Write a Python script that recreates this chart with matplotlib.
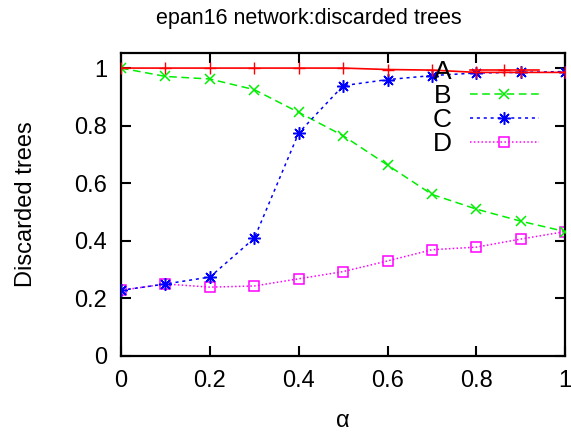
import matplotlib
matplotlib.use("Agg")
import matplotlib.pyplot as plt

plt.rcParams["font.family"] = ["Liberation Sans", "DejaVu Sans"]

# valori
alpha = [0.0, 0.1, 0.2, 0.3, 0.4, 0.5, 0.6, 0.7, 0.8, 0.9, 1.0]
serie_a = [1.0, 1.0, 1.0, 1.0, 1.0, 1.0, 0.995, 0.993, 0.985, 0.985, 0.985]
serie_b = [1.0, 0.971, 0.962, 0.925, 0.846, 0.765, 0.663, 0.561, 0.510, 0.468, 0.432]
serie_c = [0.228, 0.250, 0.274, 0.409, 0.775, 0.939, 0.960, 0.974, 0.983, 0.985, 0.988]
serie_d = [0.228, 0.250, 0.239, 0.243, 0.268, 0.293, 0.330, 0.369, 0.378, 0.406, 0.432]

fig = plt.figure(figsize=(5.71, 4.33), dpi=100)
ax = fig.add_axes([0.212, 0.178, 0.778, 0.700])

ax.plot(alpha, serie_a, color="#ff0000", lw=1.2, marker="+", ms=9, mew=1,
        label="A", zorder=5)
ax.plot(alpha, serie_b, color="#00ee00", lw=1.1, ls=(0, (5, 3)), marker="x",
        ms=7, mew=1.1, label="B", zorder=3)
ax.plot(alpha, serie_c, color="#0000ff", lw=1.1, ls=(0, (2, 2.5)),
        marker=(8, 2, 0), ms=9, mew=1.1, label="C", zorder=4)
ax.plot(alpha, serie_d, color="#ff00ff", lw=1.1, ls=(0, (1, 1.5)), marker="s",
        ms=7, mew=1.1, mfc="none", label="D", zorder=2)

ax.set_xlim(0, 1)
ax.set_ylim(0, 1.053)
ax.set_xticks([0, 0.2, 0.4, 0.6, 0.8, 1])
ax.set_xticklabels(["0", "0.2", "0.4", "0.6", "0.8", "1"])
ax.set_yticks([0, 0.2, 0.4, 0.6, 0.8, 1])
ax.set_yticklabels(["0", "0.2", "0.4", "0.6", "0.8", "1"])
ax.tick_params(direction="in", length=7, width=1.5, top=True, right=True,
               labelsize=17)
ax.tick_params(axis="x", pad=10)
ax.tick_params(axis="y", pad=10)
for s in ax.spines.values():
    s.set_linewidth(1.6)

ax.set_xlabel("α", fontsize=17)
ax.set_ylabel("Discarded trees", fontsize=17)
ax.xaxis.set_label_coords(0.5, -0.178)
ax.yaxis.set_label_coords(-0.19, 0.5)
fig.text(0.54, 0.958, "epan16 network:discarded trees", fontsize=15.5,
         ha="center", va="center")

ax.legend(loc="upper right", bbox_to_anchor=(0.94, 0.975), frameon=False,
          markerfirst=False, fontsize=19, handlelength=2.6,
          handletextpad=0.7, labelspacing=0.0, borderpad=0,
          borderaxespad=0)

fig.savefig("out.png", dpi=100)
